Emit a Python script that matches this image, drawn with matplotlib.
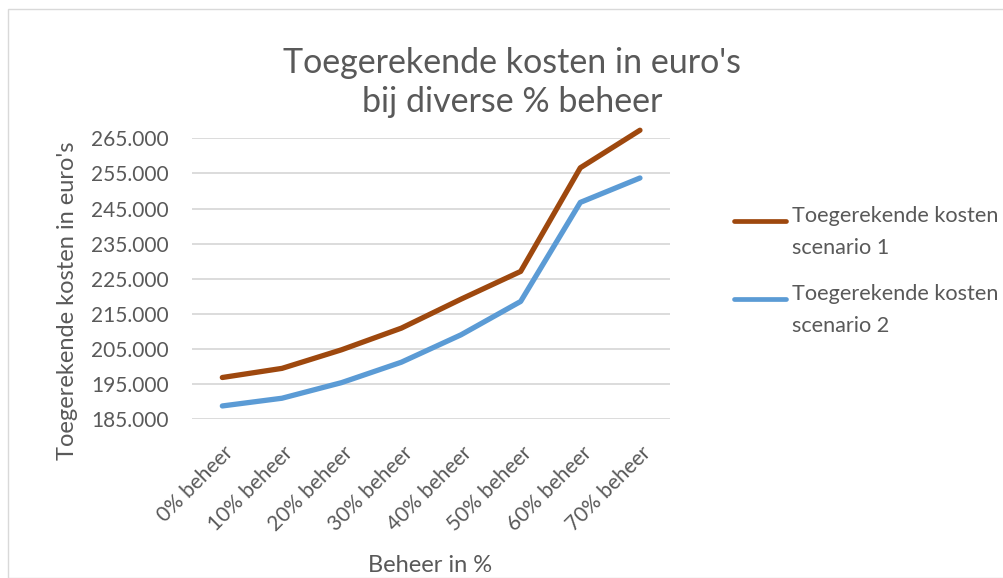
import numpy as np
import matplotlib
matplotlib.use('Agg')
import matplotlib.pyplot as plt
from matplotlib.patches import Rectangle
from matplotlib.transforms import ScaledTranslation

categories = ['0% beheer', '10% beheer', '20% beheer', '30% beheer',
              '40% beheer', '50% beheer', '60% beheer', '70% beheer']
scenario_1 = [196900, 199500, 204800, 210950, 219200, 227100, 256600, 267300]
scenario_2 = [188800, 191000, 195450, 201250, 209050, 218550, 246750, 253700]
series_names = ['Toegerekende kosten\nscenario 1', 'Toegerekende kosten\nscenario 2']
y_ticks = [185000, 195000, 205000, 215000, 225000, 235000, 245000, 255000, 265000]

W, H = 1004, 578
DPI = 100
TEXT = '#595959'
plt.rcParams['font.family'] = ['Lato', 'DejaVu Sans']


def fx(px):
    return px / W


def fy(py):
    # pixel rows are counted from the top
    return 1 - py / H


fig = plt.figure(figsize=(W / DPI, H / DPI), dpi=DPI)
fig.patches.append(Rectangle((fx(8), 0), 1.2, fy(9.3), transform=fig.transFigure,
                             fill=False, edgecolor='#D9D9D9', linewidth=1.0))

ax = fig.add_axes([fx(192.5), fy(419.3), (669.8 - 192.5) / W, (419.3 - 138.3) / H])
x = np.arange(len(categories))
ax.plot(x, scenario_1, color='#9E480E', lw=3.8, solid_capstyle='round', clip_on=False,
        label=series_names[0], zorder=3)
ax.plot(x, scenario_2, color='#5B9BD5', lw=3.8, solid_capstyle='round', clip_on=False,
        label=series_names[1], zorder=3)

ax.set_xlim(-0.5, len(categories) - 0.5)
ax.set_ylim(185000, 265000)
ax.set_yticks(y_ticks)
ax.set_yticklabels([f'{v:,}'.replace(',', '.') for v in y_ticks])
ax.grid(axis='y', color='#D9D9D9', lw=1.3)
ax.set_axisbelow(True)
for s in ax.spines.values():
    s.set_visible(False)
ax.tick_params(axis='y', length=0, pad=(192.5 - 169) * 72 / DPI, labelsize=15,
               labelcolor=TEXT)
ax.tick_params(axis='x', length=0, pad=0)

ax.set_xticks(x)
ax.set_xticklabels(categories, rotation=45, ha='right', va='center',
                   rotation_mode='anchor', fontsize=15, color=TEXT)
for lab in ax.get_xticklabels():
    lab.set_transform(lab.get_transform()
                      + ScaledTranslation(8 / DPI, -30.5 / DPI, fig.dpi_scale_trans))

fig.text(fx(512), fy(72.7), "Toegerekende kosten in euro's", ha='center',
         va='baseline', fontsize=24.5, color=TEXT)
fig.text(fx(512), fy(111.7), 'bij diverse % beheer', ha='center',
         va='baseline', fontsize=24.5, color=TEXT)
fig.text(fx(67.5), fy(301), "Toegerekende kosten in euro's", rotation=90,
         ha='center', va='center', fontsize=17, color=TEXT)
fig.text(fx(430.5), fy(572), 'Beheer in %', ha='center', va='baseline',
         fontsize=17, color=TEXT)

# legend: text blocks at x=792, first lines ~78 px apart, handles on the first line
LEG_FS = 15.6
fs_px = LEG_FS * DPI / 72
renderer = fig.canvas.get_renderer()
fp = matplotlib.font_manager.FontProperties(family=['Lato', 'DejaVu Sans'], size=LEG_FS)
_, lp_h, lp_d = renderer.get_text_width_height_descent('lp', fp, ismath=False)
line_sp = 27.7 / (lp_h - lp_d)


def make_legend(anchor_px, labelspacing):
    leg = ax.legend(loc='upper left', bbox_to_anchor=(fx(anchor_px[0]), fy(anchor_px[1])),
                    bbox_transform=fig.transFigure, frameon=False, fontsize=LEG_FS,
                    borderpad=0, borderaxespad=0, handlelength=2.36,
                    handletextpad=0.3, labelspacing=labelspacing, labelcolor=TEXT)
    for t in leg.get_texts():
        t.set_linespacing(line_sp)
    for line in leg.get_lines():
        line.set_linewidth(3.4)
        line.set_solid_capstyle('round')
    return leg


anchor = (732.0, 208.0)
spacing = 1.2
leg = make_legend(anchor, spacing)
fig.canvas.draw()
b0 = leg.get_texts()[0].get_window_extent(renderer)
b1 = leg.get_texts()[1].get_window_extent(renderer)
gap = b0.y1 - b1.y1
anchor = (anchor[0] + 792 - b0.x0, anchor[1] + (H - b0.y1) - 210)
spacing += (78.4 - gap) / fs_px
leg.remove()
leg = make_legend(anchor, spacing)
fig.canvas.draw()
for line, target in zip(leg.get_lines(), [221, 299]):
    bb = line.get_window_extent(renderer)
    shift = ((H - target) - (bb.y0 + bb.y1) / 2) * 72 / DPI
    line.set_ydata(np.asarray(line.get_ydata()) + shift)

fig.savefig('out.png', dpi=DPI)
